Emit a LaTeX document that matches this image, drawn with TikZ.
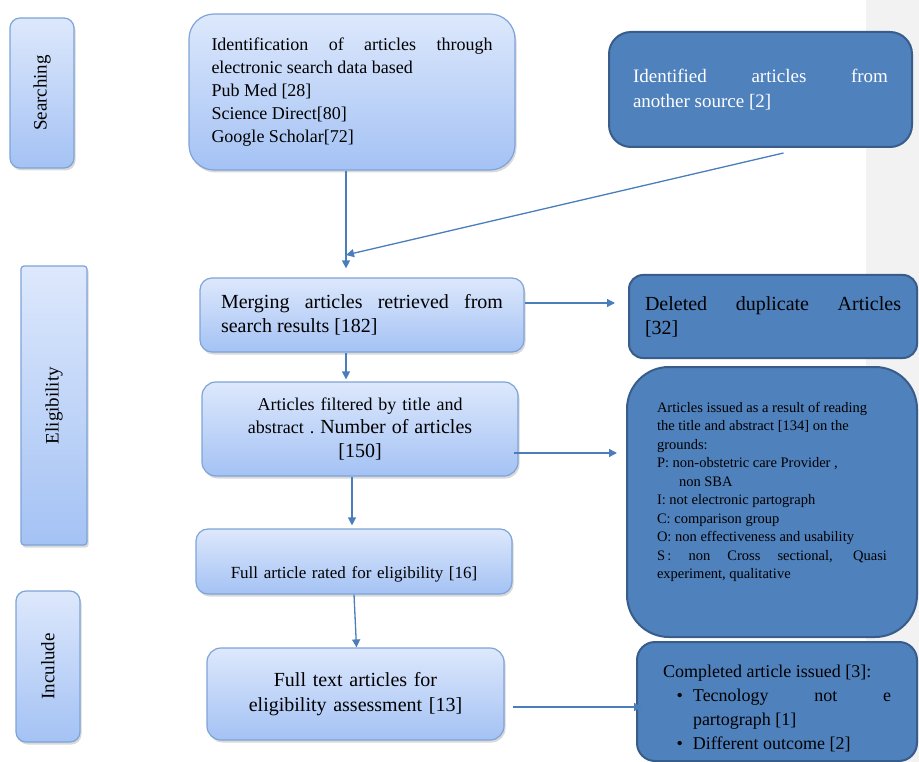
\documentclass[tikz,border=0pt]{standalone}
\usepackage{fontspec}
\setmainfont{Liberation Serif}
\usetikzlibrary{arrows.meta,shadows}
\definecolor{boxtop}{HTML}{DDE8FC}
\definecolor{boxbottom}{HTML}{A4C2F4}
\definecolor{boxedge}{HTML}{7EA4D8}
\definecolor{darkfill}{HTML}{4F81BD}
\definecolor{darkedge}{HTML}{385D8A}
\definecolor{arrowblue}{HTML}{4A7EBB}
\definecolor{bandgrey}{HTML}{F2F2F2}

\begin{document}
\begin{tikzpicture}[x=1pt, y=-1pt,
		lightbox/.style={draw=boxedge, line width=1.2pt, top color=boxtop, bottom color=boxbottom, inner sep=0pt,
			drop shadow={opacity=.3, shadow xshift=1.5pt, shadow yshift=-2.5pt}},
		darkbox/.style={draw=darkedge, line width=2pt, fill=darkfill, inner sep=0pt},
		flow/.style={draw=arrowblue, line width=1.3pt, -{Triangle[length=8pt, width=8pt]}}]
				\useasboundingbox (0,0) rectangle (919,762);
				\fill[bandgrey] (866,0) rectangle (919,762);

				\node[lightbox, rounded corners=10, minimum width=64, minimum height=150] (searching) at (42,93) {};
				\node[rotate=90, font=\fontsize{19}{22}\selectfont] (searchingtext) at (searching) {Searching};
				\node[lightbox, rounded corners=3, minimum width=66, minimum height=279] (eligibility) at (54,405.5) {};
				\node[rotate=90, font=\fontsize{19}{22}\selectfont] (eligibilitytext) at (eligibility) {Eligibility};
				\node[lightbox, rounded corners=10, minimum width=64, minimum height=151] (inculude) at (48,666.5) {};
				\node[rotate=90, font=\fontsize{19}{22}\selectfont] (inculudetext) at (inculude) {Inculude};

				\node[lightbox, rounded corners=25, minimum width=326, minimum height=156, text width=281, align=justify,
					font=\fontsize{18}{23}\selectfont] (ident) at (352,92)
					{Identification of articles through\linebreak electronic search data based\\ Pub Med [28]\\ Science Direct[80]\\ Google Scholar[72]};
				\node[darkbox, rounded corners=22, minimum width=303, minimum height=115, text width=255, align=justify,
					text=white, font=\fontsize{19}{25}\selectfont] (another) at (760.5,89.5)
					{Identified articles from\linebreak another source [2]};
				\node[lightbox, rounded corners=12, minimum width=324, minimum height=74, text width=282, align=justify,
					font=\fontsize{20}{24}\selectfont] (merge) at (362,315)
					{Merging articles retrieved from\linebreak search results [182]};
				\node[darkbox, rounded corners=14, minimum width=288, minimum height=83, text width=256, align=justify,
					font=\fontsize{20}{24}\selectfont] (deleted) at (773,316.5)
					{Deleted duplicate Articles\linebreak{}[32]};
				\node[lightbox, rounded corners=14, minimum width=316, minimum height=94, text width=290, align=center,
					font=\fontsize{18}{23.5}\selectfont] (filtered) at (360,429)
					{Articles filtered by title and\\ abstract .\ {\fontsize{20}{23.5}\selectfont Number of articles\\{}[150]}};
				\node[darkbox, rounded corners=42, minimum width=290, minimum height=270, text width=230, align=justify,
					font=\fontsize{14.5}{18.5}\selectfont] (issued) at (772,502)
					{Articles issued as a result of reading\\ the title and abstract [134] on the\\ grounds:\\
					P: non-obstetric care Provider ,\\ \hspace*{22pt}non SBA\\ I: not electronic partograph\\
					C: comparison group\\ O: non effectiveness and usability\\ S\,: non Cross sectional, Quasi\linebreak experiment, qualitative\rule[-23pt]{0pt}{23pt}};
				\node[lightbox, rounded corners=12, minimum width=316, minimum height=65, text width=290, align=center,
					text height=38, font=\fontsize{17}{21}\selectfont] (rated) at (354,561.5)
					{Full article rated for eligibility [16]};
				\node[lightbox, rounded corners=14, minimum width=297, minimum height=92, text width=270, align=center,
					font=\fontsize{20}{25}\selectfont] (fulltext) at (355.5,694)
					{Full text articles for\\ eligibility assessment [13]};
				\node[darkbox, rounded corners=18, minimum width=280, minimum height=119, text width=228, align=justify,
					font=\fontsize{18}{24}\selectfont] (completed) at (777,701.5)
					{\rule{0pt}{27pt}Completed article issued [3]:\par\leftskip=30pt
					\leavevmode\llap{\textbullet\hspace{10pt}}Tecnology not e\linebreak partograph [1]\par
					\leavevmode\llap{\textbullet\hspace{10pt}}Different outcome [2]\par};

				\coordinate (join) at (346,255);
				\draw[flow, shorten >=9] (ident.south -| join) -- (join |- merge.north);
				\draw[flow] ([xshift=23, yshift=-5]another.south) -- (join);
				\draw[flow, shorten >=13] ([yshift=12]merge.east) -- ([yshift=12]merge.east -| deleted.west);
				\draw[flow, shorten >=2] (merge.south -| join) -- (join |- filtered.north);
				\draw[flow, shorten >=3] ([xshift=-8]filtered.south) -- ([xshift=-8]filtered.south |- rated.north);
				\draw[flow, shorten >=4] ([xshift=-5, yshift=-24]filtered.east) -- ([xshift=-5, yshift=-24]filtered.east -| issued.west);
				\draw[flow] (rated.south) -- ([xshift=1]fulltext.north);
				\draw[flow, shorten >=2] ([xshift=8, yshift=-13]fulltext.east) -- ([xshift=8, yshift=-13]fulltext.east -| completed.west);
			\end{tikzpicture}
\end{document}
